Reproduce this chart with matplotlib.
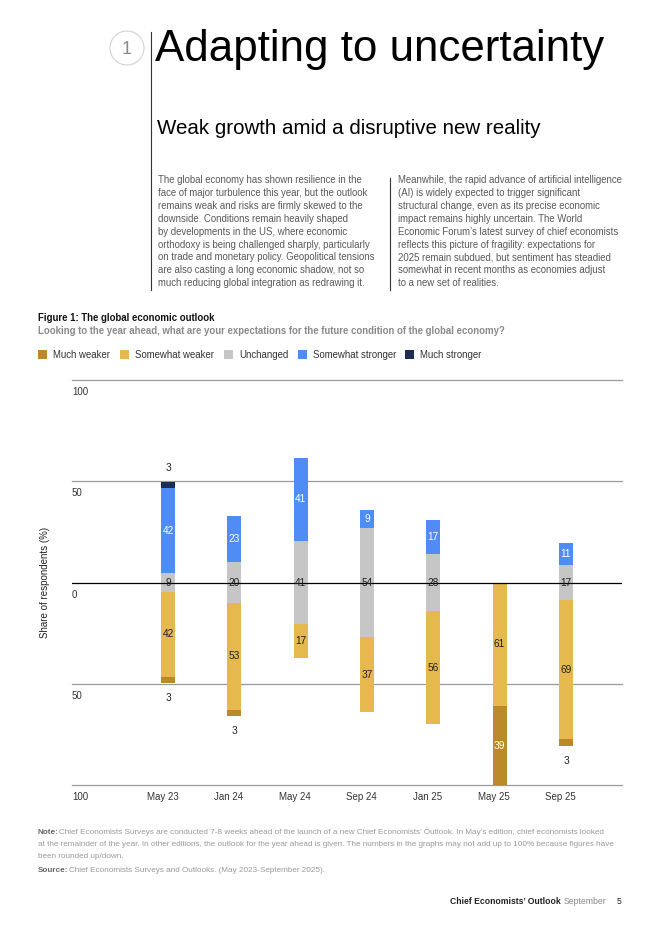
import numpy as np
import matplotlib.pyplot as plt
from matplotlib.patches import Ellipse, Rectangle
from matplotlib.lines import Line2D
import matplotlib.transforms as mtransforms

plt.rcParams['font.family'] = ['Liberation Sans', 'DejaVu Sans']

# survey editions and answer shares (%)
dates = ['May 23', 'Jan 24', 'May 24', 'Sep 24', 'Jan 25', 'May 25', 'Sep 25']
much_weaker = [3, 3, 0, 0, 0, 39, 3]
somewhat_weaker = [42, 53, 17, 37, 56, 61, 69]
unchanged = [9, 20, 41, 54, 28, 0, 17]
somewhat_stronger = [42, 23, 41, 9, 17, 0, 11]
much_stronger = [3, 0, 0, 0, 0, 0, 0]

categories = ['Much weaker', 'Somewhat weaker', 'Unchanged', 'Somewhat stronger', 'Much stronger']
colors = ['#BA8A2A', '#E6B94F', '#C6C6C6', '#4F8CF6', '#1B2E50']

left_col = [
    "The global economy has shown resilience in the",
    "face of major turbulence this year, but the outlook",
    "remains weak and risks are firmly skewed to the",
    "downside. Conditions remain heavily shaped",
    "by developments in the US, where economic",
    "orthodoxy is being challenged sharply, particularly",
    "on trade and monetary policy. Geopolitical tensions",
    "are also casting a long economic shadow, not so",
    "much reducing global integration as redrawing it.",
]
right_col = [
    "Meanwhile, the rapid advance of artificial intelligence",
    "(AI) is widely expected to trigger significant",
    "structural change, even as its precise economic",
    "impact remains highly uncertain. The World",
    "Economic Forum\u2019s latest survey of chief economists",
    "reflects this picture of fragility: expectations for",
    "2025 remain subdued, but sentiment has steadied",
    "somewhat in recent months as economies adjust",
    "to a new set of realities.",
]

W, H = 662, 936
fig = plt.figure(figsize=(W / 100, H / 100), dpi=100)


def P(x, y):
    return x / W, 1 - y / H


# ---- header
fig.patches.append(Ellipse(P(127, 48), 34 / W, 34 / H, transform=fig.transFigure,
                           facecolor='white', edgecolor='#D2D2D2', lw=0.8))
fig.text(*P(127, 49), '1', fontsize=13, color='#8A8A8A', ha='center', va='center')
fig.lines.append(Line2D([151 / W, 151 / W], [1 - 32 / H, 1 - 290 / H],
                        transform=fig.transFigure, color='#333333', lw=0.8))
fig.lines.append(Line2D([390 / W, 390 / W], [1 - 178 / H, 1 - 290 / H],
                        transform=fig.transFigure, color='#333333', lw=0.8))
fig.text(*P(155, 49), 'Adapting to uncertainty', fontsize=31.6, color='black',
         ha='left', va='center')
fig.text(*P(157, 128), 'Weak growth amid a disruptive new reality', fontsize=14.8,
         color='black', ha='left', va='center')

for i, (a, b) in enumerate(zip(left_col, right_col)):
    y = 180 + i * 12.9
    fig.text(*P(158, y), a, fontsize=6.95, color='#595959', ha='left', va='center')
    fig.text(*P(398, y), b, fontsize=6.95, color='#595959', ha='left', va='center')

# ---- figure heading + legend
fig.text(*P(38, 318), 'Figure 1: The global economic outlook', fontsize=6.9,
         fontweight='bold', color='#111111', ha='left', va='center')
fig.text(*P(38, 331), 'Looking to the year ahead, what are your expectations for the future '
         'condition of the global economy?', fontsize=6.9, fontweight='bold',
         color='#8A8A8A', ha='left', va='center')
leg_sq = [38, 120, 224, 298, 405]
for xs, lab, col in zip(leg_sq, categories, colors):
    fig.patches.append(Rectangle(P(xs, 359), 9 / W, 9 / H, transform=fig.transFigure,
                                 facecolor=col, edgecolor='none'))
    fig.text(*P(xs + 15, 355), lab, fontsize=6.9, color='#333333', ha='left', va='center')

# ---- chart
ax = fig.add_axes([72 / W, 1 - 785 / H, 550 / W, 405 / H])
ax.set_xlim(-1.447, 6.845)
ax.set_ylim(-100, 100)
for s in ax.spines.values():
    s.set_visible(False)
ax.set_xticks([])
ax.set_yticks([])
for g in [100, 50, -50, -100]:
    ax.axhline(g, color='#9A9A9A', lw=0.9, zorder=0, clip_on=False)
ax.axhline(0, color='black', lw=0.9, zorder=3)

x = np.arange(len(dates))
bw = 0.21
uh = np.array(unchanged) / 2
mw = np.array(much_weaker)
sw = np.array(somewhat_weaker)
ss = np.array(somewhat_stronger)
ms = np.array(much_stronger)

ax.bar(x, unchanged, bottom=-uh, width=bw, color=colors[2], zorder=2)
ax.bar(x, ss, bottom=uh, width=bw, color=colors[3], zorder=2)
ax.bar(x, ms, bottom=uh + ss, width=bw, color=colors[4], zorder=2)
ax.bar(x, -sw, bottom=-uh, width=bw, color=colors[1], zorder=2)
ax.bar(x, -mw, bottom=-uh - sw, width=bw, color=colors[0], zorder=2)

fs = 7.3
for i in range(len(dates)):
    if unchanged[i]:
        ax.text(x[i], 0, str(unchanged[i]), ha='center', va='center', fontsize=fs,
                color='#222222', zorder=5)
    if ss[i]:
        ax.text(x[i], uh[i] + ss[i] / 2, str(ss[i]), ha='center', va='center',
                fontsize=fs, color='white', zorder=5)
    if ms[i]:
        ax.text(x[i], uh[i] + ss[i] + ms[i] + 7, str(ms[i]), ha='center', va='center',
                fontsize=fs, color='#222222', zorder=5)
    if sw[i]:
        ax.text(x[i], -uh[i] - sw[i] / 2, str(sw[i]), ha='center', va='center',
                fontsize=fs, color='#222222', zorder=5)
    if mw[i]:
        if mw[i] > 10:
            ax.text(x[i], -uh[i] - sw[i] - mw[i] / 2, str(mw[i]), ha='center',
                    va='center', fontsize=fs, color='white', zorder=5)
        else:
            ax.text(x[i], -uh[i] - sw[i] - mw[i] - 7.5, str(mw[i]), ha='center',
                    va='center', fontsize=fs, color='#222222', zorder=5)

# tick labels below the gridlines
trans = mtransforms.blended_transform_factory(ax.transAxes, ax.transData)
for v, lab in zip([100, 50, 0, -50, -100], ['100', '50', '0', '50', '100']):
    ax.text(0, v - 6, lab, transform=trans, ha='left', va='center', fontsize=7,
            color='#333333')
for xi, d in zip(x, dates):
    ax.text(xi - 0.08, -106, d, ha='center', va='center', fontsize=7,
            color='#333333', clip_on=False)

fig.text(*P(45, 582), 'Share of respondents (%)', rotation=90, fontsize=7,
         color='#222222', ha='center', va='center')

# ---- notes and footer
note_lines = [
    "Chief Economists Surveys are conducted 7-8 weeks ahead of the launch of a new Chief "
    "Economists\u2019 Outlook. In May\u2019s edition, chief economists looked",
    "at the remainder of the year. In other editions, the outlook for the year ahead is given. "
    "The numbers in the graphs may not add up to 100% because figures have",
    "been rounded up/down.",
]
nfs = 5.85
fig.text(*P(38, 833), 'Note:', fontsize=nfs, fontweight='bold', color='#666666',
         ha='left', va='center')
fig.text(*P(59, 833), note_lines[0], fontsize=nfs, color='#9A9A9A', ha='left', va='center')
fig.text(*P(38, 845), note_lines[1], fontsize=nfs, color='#9A9A9A', ha='left', va='center')
fig.text(*P(38, 857), note_lines[2], fontsize=nfs, color='#9A9A9A', ha='left', va='center')
fig.text(*P(38, 870), 'Source:', fontsize=nfs, fontweight='bold', color='#666666',
         ha='left', va='center')
fig.text(*P(69, 870), 'Chief Economists Surveys and Outlooks. (May 2023-September 2025).',
         fontsize=nfs, color='#9A9A9A', ha='left', va='center')

fig.text(*P(561, 902), 'Chief Economists\u2019 Outlook', fontsize=6.2, fontweight='bold',
         color='#222222', ha='right', va='center')
fig.text(*P(564, 902), 'September', fontsize=6.2, color='#888888', ha='left', va='center')
fig.text(*P(621, 902), '5', fontsize=6.2, color='#222222', ha='right', va='center')

fig.savefig('out.png', dpi=100)
